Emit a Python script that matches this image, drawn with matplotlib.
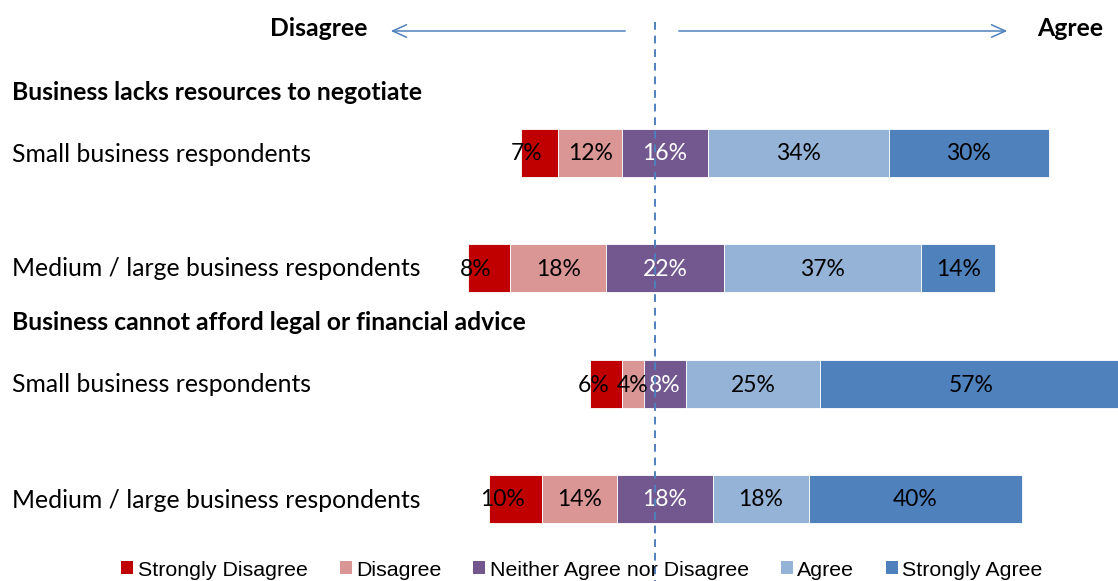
import matplotlib
matplotlib.use("Agg")
import matplotlib.pyplot as plt
from matplotlib.patches import Patch
import matplotlib.transforms as mtransforms

# ---- data ----
groups = ["Business lacks resources to negotiate", "Business cannot afford legal or financial advice"]
respondents = ["Small business respondents", "Medium / large business respondents",
               "Small business respondents", "Medium / large business respondents"]
series_names = ["Strongly Disagree", "Disagree", "Neither Agree nor Disagree", "Agree", "Strongly Agree"]
strongly_disagree = [7, 8, 6, 10]
disagree = [12, 18, 4, 14]
neither = [16, 22, 8, 18]
agree = [34, 37, 25, 18]
strongly_agree = [30, 14, 57, 40]

colors = ["#C00000", "#DA9694", "#72588F", "#95B3D7", "#4F81BD"]
text_colors = ["black", "black", "white", "black", "black"]

W, H = 1118, 581
fig = plt.figure(figsize=(W / 100, H / 100), dpi=100)
ax = fig.add_axes([0, 0, 1, 1])
ppp = 5.33  # pixels per percent
x0 = 665
ax.set_xlim(-x0 / ppp, (W - x0) / ppp)
ax.set_ylim(H, 0)
ax.axis("off")

bar_y = [153, 268, 384, 499]
bar_h = 48
font = "Lato"
series = [strongly_disagree, disagree, neither, agree, strongly_agree]
label_shift = [-13 / ppp, 0, 0, 0, 0]

for i, y in enumerate(bar_y):
    left = -(strongly_disagree[i] + disagree[i] + neither[i] / 2)
    for s, vals in enumerate(series):
        v = vals[i]
        ax.barh(y, v, left=left, height=bar_h, color=colors[s], edgecolor="white", linewidth=0.6)
        ax.text(left + v / 2 + label_shift[s], y + 1, f"{v}%", ha="center", va="center",
                fontsize=16.5, color=text_colors[s], family=font, zorder=5)
        left += v

# dashed reference line
ax.plot([(655 - x0) / ppp] * 2, [22, H], color="#4F81BD", ls=(0, (4, 3)), lw=1.4, zorder=6)

tr = mtransforms.blended_transform_factory(fig.transFigure, ax.transData)
for i, y in enumerate(bar_y):
    ax.text(12 / W, y + 1, respondents[i], transform=tr, ha="left", va="center",
            fontsize=17.8, family=font)
for g, y in zip(groups, [93, 323]):
    ax.text(12 / W, y, g, transform=tr, ha="left", va="center",
            fontsize=17.8, family=font, fontweight="bold")

# arrows
ax.annotate("", xy=((388 - x0) / ppp, 31), xytext=((628 - x0) / ppp, 31),
            arrowprops=dict(arrowstyle="->,head_length=1.0,head_width=0.45", color="#4F81BD", lw=1.1))
ax.annotate("", xy=((1010 - x0) / ppp, 31), xytext=((676 - x0) / ppp, 31),
            arrowprops=dict(arrowstyle="->,head_length=1.0,head_width=0.45", color="#4F81BD", lw=1.1))
ax.text(367 / W, 29, "Disagree", transform=tr, ha="right", va="center",
        fontsize=17.8, family=font, fontweight="bold")
ax.text(1103 / W, 29, "Agree", transform=tr, ha="right", va="center",
        fontsize=17.8, family=font, fontweight="bold")

handles = [Patch(facecolor=c, edgecolor="none") for c in colors]
fig.legend(handles, series_names, loc="center", bbox_to_anchor=(582 / W, 1 - 570 / H),
           ncol=5, frameon=False, prop={"family": "Liberation Sans", "size": 15.4},
           handlelength=0.56, handleheight=0.56, handletextpad=0.2, columnspacing=1.5,
           borderpad=0, borderaxespad=0)

fig.savefig("out.png", dpi=100)
